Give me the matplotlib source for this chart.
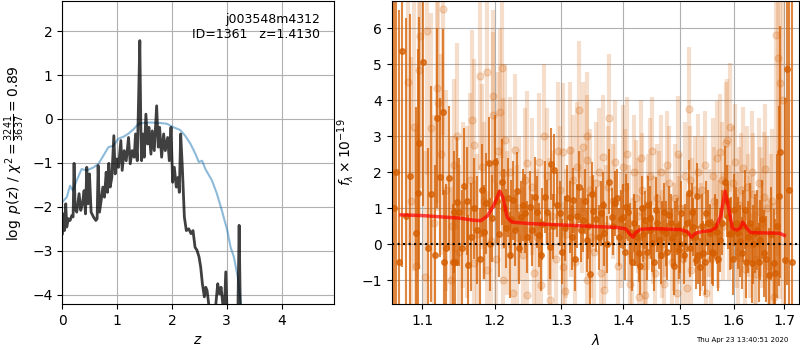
import numpy as np
import matplotlib
matplotlib.use("Agg")
import matplotlib.pyplot as plt
from matplotlib.ticker import FixedLocator, ScalarFormatter, NullLocator

# --- p(z) panel -------------------------------------------------------------
z_pz = [0.000, 0.018, 0.037, 0.061, 0.079, 0.110, 0.140, 0.171, 0.195, 0.213,
        0.232, 0.262, 0.305, 0.335, 0.366, 0.396, 0.421, 0.445, 0.470, 0.494,
        0.524, 0.567, 0.610, 0.634, 0.652, 0.677, 0.707, 0.738, 0.768, 0.799,
        0.823, 0.848, 0.872, 0.902, 0.939, 0.963, 0.994, 1.024, 1.067, 1.091,
        1.128, 1.165, 1.207, 1.238, 1.274, 1.311, 1.335, 1.366, 1.390, 1.413,
        1.433, 1.445, 1.470, 1.494, 1.524, 1.555, 1.579, 1.616, 1.640, 1.677,
        1.720, 1.750, 1.774, 1.811, 1.848, 1.878, 1.921, 1.951, 1.982, 2.012,
        2.043, 2.079, 2.110, 2.134, 2.159, 2.189, 2.226, 2.262, 2.305, 2.348,
        2.384, 2.421, 2.457, 2.494, 2.524, 2.555, 2.591, 2.616, 2.640, 2.677,
        2.713, 2.774, 2.835, 2.866, 2.896, 2.921, 2.951, 2.982, 3.006, 3.067,
        3.128, 3.201, 3.226, 3.250, 3.311, 3.400]
logpz = [-2.61, -2.16, -2.54, -1.93, -2.46, -2.27, -2.31, -2.20, -2.23, -1.01,
         -2.05, -2.12, -1.70, -2.08, -1.93, -1.63, -2.16, -1.10, -1.93, -1.25,
         -2.12, -2.23, -2.31, -2.27, -1.06, -2.12, -1.86, -1.55, -1.78, -1.21,
         -1.67, -1.01, -1.55, -1.33, -0.38, -1.25, -0.91, -1.10, -0.49, -1.17,
         -0.72, -0.95, -0.42, -1.02, -0.72, -0.87, -0.34, -0.95, 0.42, 1.785,
         -0.34, -0.95, -0.34, -0.87, 0.11, -0.57, -0.19, -0.80, -0.27, -0.72,
         0.30, -0.64, -0.19, -0.87, -0.34, -0.72, -0.42, -0.95, -0.19, -1.44,
         -1.10, -1.55, -1.33, -1.67, -0.34, -1.10, -2.23, -2.54, -2.50, -2.61,
         -2.54, -2.92, -2.99, -3.14, -3.37, -3.75, -4.05, -3.83, -3.90, -4.28,
         -4.51, -4.58, -3.75, -3.98, -3.83, -4.13, -4.51, -3.48, -4.43, -4.81,
         -4.89, -4.58, -2.42, -4.58, -5.27, -6.00]

z_prior = [0.00, 0.08, 0.14, 0.19, 0.26, 0.35, 0.45, 0.57, 0.66, 0.75, 0.84,
           0.93, 1.02, 1.12, 1.21, 1.30, 1.39, 1.48, 1.60, 1.79, 1.91, 2.03,
           2.15, 2.24, 2.34, 2.43, 2.49, 2.55, 2.61, 2.73, 2.82, 2.91, 3.01,
           3.07, 3.13, 3.20, 3.26, 3.35]
logp_prior = [-1.89, -1.78, -1.52, -1.63, -1.40, -1.14, -1.17, -1.10, -1.02,
              -0.83, -0.64, -0.61, -0.45, -0.40, -0.33, -0.23, -0.11, -0.09,
              -0.08, -0.09, -0.11, -0.19, -0.25, -0.38, -0.57, -0.80, -0.98,
              -0.95, -1.14, -1.40, -1.70, -2.08, -2.54, -2.92, -3.14, -3.60,
              -4.22, -5.00]

# --- spectrum panel: strong (dark) points -----------------------------------
wave_a = [1.063, 1.066, 1.069, 1.073, 1.078, 1.084, 1.091, 1.094, 1.096, 1.101,
          1.107, 1.112, 1.117, 1.120, 1.124, 1.127, 1.129, 1.131, 1.135, 1.141,
          1.144, 1.147, 1.150, 1.157, 1.162, 1.175, 1.184, 1.187, 1.191, 1.196,
          1.200, 1.211, 1.216, 1.222, 1.227, 1.229, 1.233, 1.238, 1.245, 1.252,
          1.255, 1.259, 1.265, 1.270, 1.275, 1.282, 1.284, 1.289, 1.298, 1.305,
          1.313, 1.319, 1.324, 1.328, 1.335, 1.340, 1.346, 1.351, 1.356, 1.364,
          1.369, 1.377, 1.381, 1.386, 1.393, 1.400, 1.406, 1.412, 1.421, 1.427,
          1.432, 1.438, 1.446, 1.450, 1.456, 1.462, 1.468, 1.474, 1.480, 1.485,
          1.491, 1.497, 1.502, 1.509, 1.515, 1.523, 1.528, 1.531, 1.536, 1.542,
          1.548, 1.555, 1.561, 1.567, 1.574, 1.583, 1.589, 1.595, 1.601, 1.608,
          1.615, 1.621, 1.628, 1.635, 1.641, 1.651, 1.658, 1.668, 1.678, 1.690,
          1.692, 1.701, 1.706, 1.710, 1.715]
flux_a = [1.0, 2.0, -0.5, 5.38, 0.8, 1.9, 0.33, 1.42, 2.81, 5.08,
          -0.11, 1.40, -0.30, 3.50, 1.86, 3.67, -0.48, -0.11, 1.84, -0.48,
          -0.48, 1.19, 0.91, 1.62, -0.58, 0.40, 0.34, 1.14, 2.25, 0.72,
          2.30, 1.74, 0.45, -0.30, 1.23, 0.40, 1.47, 0.77, 0.86, 1.05,
          0.40, 1.33, 0.26, 0.58, 1.33, -0.06, 2.24, 2.07, 0.86, 0.45,
          0.77, 1.23, 0.79, 1.60, 0.68, 0.12, -0.83, 0.94, 0.70, 0.86,
          0.31, 1.74, 0.77, 1.14, 0.21, 0.77, 1.05, 0.35, 0.31, -0.25,
          1.00, 0.68, 0.72, 0.03, 0.96, 0.12, 0.40, 0.31, 0.82, 0.17,
          0.31, -0.16, 0.86, 0.31, 1.44, 0.49, -0.44, 1.35, -0.62, -0.25,
          0.86, 0.31, -0.25, 0.35, 0.12, 1.74, 0.77, 0.31, 0.96, 0.31,
          -0.25, 0.96, 0.21, -0.53, 0.31, 0.12, -0.25, -0.85, -0.53, 1.35,
          2.58, -0.44, 4.88, 1.5, -0.5]
err_a = [8.0, 7.5, 7.0, 6.0, 5.5, 4.5, 3.5, 4.0, 3.5, 4.0,
         2.8, 3.0, 2.5, 2.5, 2.2, 2.3, 2.0, 1.8, 2.0, 1.6,
         1.5, 1.8, 1.5, 1.6, 1.4, 1.5, 1.3, 1.4, 1.3, 1.2,
         1.3, 1.2, 1.1, 1.2, 1.1, 1.0, 1.1, 1.0, 1.1, 1.0,
         1.0, 1.1, 0.9, 1.0, 1.0, 0.9, 1.0, 1.0, 0.9, 0.9,
         1.0, 0.9, 0.9, 1.0, 0.9, 0.9, 0.9, 1.0, 0.9, 0.9,
         0.9, 0.9, 0.8, 0.9, 0.8, 0.9, 0.9, 0.8, 0.9, 0.8,
         0.9, 0.8, 0.9, 0.8, 0.9, 0.8, 0.8, 0.9, 0.8, 0.8,
         0.9, 0.8, 0.9, 0.8, 0.9, 0.8, 0.8, 0.9, 0.8, 0.9,
         0.9, 0.8, 0.9, 0.9, 0.9, 1.0, 0.9, 1.0, 1.0, 1.0,
         1.0, 1.1, 1.0, 1.1, 1.1, 1.1, 1.2, 1.3, 1.5, 2.5,
         3.5, 4.5, 6.0, 8.0, 8.0]

# second batch of strong points, in between the first
wave_a2 = [1.143, 1.153, 1.160, 1.166, 1.170, 1.179, 1.181, 1.193, 1.203, 1.206,
           1.214, 1.219, 1.224, 1.236, 1.241, 1.248, 1.262, 1.268, 1.278, 1.287,
           1.293, 1.301, 1.309, 1.316, 1.322, 1.331, 1.338, 1.343, 1.349, 1.360,
           1.366, 1.373, 1.384, 1.390, 1.396, 1.403, 1.409, 1.415, 1.418, 1.424,
           1.429, 1.435, 1.441, 1.443, 1.448, 1.453, 1.459, 1.465, 1.471, 1.477,
           1.483, 1.488, 1.494, 1.500, 1.506, 1.512, 1.518, 1.521, 1.526, 1.533,
           1.539, 1.545, 1.551, 1.558, 1.564, 1.570, 1.578, 1.586, 1.592, 1.598,
           1.604, 1.611, 1.618, 1.624, 1.631, 1.638, 1.645, 1.648, 1.654, 1.662,
           1.672, 1.682, 1.686]
flux_a2 = [0.9, -0.1, 1.2, 0.2, 1.0, -0.4, 1.5, 0.0, 1.2, 0.3,
           1.0, 1.3, 0.7, -0.1, 1.1, 0.2, 0.9, -0.3, 0.9, 0.5,
           1.1, -0.2, 1.3, 0.2, -0.4, 0.4, 1.2, 0.5, 1.4, 0.2,
           1.1, 0.0, 0.5, 1.3, 0.7, -0.2, 0.9, -0.5, 0.6, 0.2,
           -0.6, 0.3, -0.2, 1.1, 0.4, -0.5, 0.6, -0.3, 0.9, -0.2,
           0.6, -0.6, 0.5, 0.0, -0.3, 0.6, -0.1, 0.9, 0.2, -0.3,
           0.5, -0.5, 0.6, -0.2, 0.5, -0.4, 0.6, 1.2, 0.3, -0.4,
           0.6, 0.1, 0.5, -0.5, 0.6, 0.0, 0.4, -0.5, 0.7, -0.4,
           0.3, -0.8, 0.5]
err_a2 = [1.7, 1.6, 1.5, 1.5, 1.4, 1.4, 1.3, 1.3, 1.2, 1.2,
          1.1, 1.1, 1.1, 1.0, 1.0, 1.0, 1.0, 1.0, 0.9, 0.9,
          0.9, 0.9, 0.9, 0.9, 0.9, 0.9, 0.9, 0.9, 0.9, 0.9,
          0.9, 0.8, 0.8, 0.8, 0.8, 0.8, 0.8, 0.8, 0.8, 0.8,
          0.8, 0.8, 0.8, 0.8, 0.8, 0.8, 0.8, 0.8, 0.8, 0.8,
          0.8, 0.8, 0.8, 0.8, 0.8, 0.8, 0.8, 0.8, 0.8, 0.8,
          0.9, 0.9, 0.9, 0.9, 0.9, 0.9, 0.9, 1.0, 1.0, 1.0,
          1.0, 1.0, 1.0, 1.0, 1.1, 1.1, 1.1, 1.1, 1.1, 1.2,
          1.3, 1.5, 2.0]

# --- spectrum panel: weak (light) points ------------------------------------
wave_b = [1.081, 1.085, 1.089, 1.092, 1.096, 1.097, 1.103, 1.106, 1.111, 1.115,
          1.120, 1.121, 1.125, 1.128, 1.132, 1.138, 1.140, 1.147, 1.150, 1.160,
          1.165, 1.168, 1.171, 1.171, 1.179, 1.182, 1.185, 1.189, 1.189, 1.195,
          1.197, 1.198, 1.205, 1.207, 1.211, 1.212, 1.212, 1.218, 1.222, 1.227,
          1.230, 1.236, 1.242, 1.248, 1.248, 1.255, 1.262, 1.268, 1.273, 1.278,
          1.283, 1.286, 1.292, 1.298, 1.303, 1.303, 1.308, 1.313, 1.318, 1.324,
          1.328, 1.332, 1.340, 1.340, 1.341, 1.345, 1.352, 1.360, 1.367, 1.369,
          1.372, 1.377, 1.383, 1.392, 1.400, 1.404, 1.410, 1.412, 1.418, 1.425,
          1.427, 1.432, 1.438, 1.440, 1.446, 1.452, 1.458, 1.465, 1.470, 1.472,
          1.480, 1.488, 1.494, 1.495, 1.500, 1.505, 1.512, 1.515, 1.517, 1.522,
          1.533, 1.540, 1.548, 1.552, 1.560, 1.567, 1.574, 1.580, 1.584, 1.586,
          1.592, 1.598, 1.605, 1.610, 1.617, 1.621, 1.625, 1.632, 1.638, 1.644,
          1.648, 1.655, 1.658, 1.665, 1.672, 1.678, 1.683, 1.688, 1.692, 1.698]
flux_b = [4.52, 1.2, 3.27, -0.6, 4.85, 5.78, -0.9, 5.92, 3.23, 0.6,
          4.34, 3.92, 2.5, 6.54, 1.5, -1.0, 0.5, 3.00, -0.2, 0.9,
          1.8, 3.46, 2.76, -0.53, 4.68, 2.16, 1.2, 4.80, -0.71, 0.1,
          4.11, 3.60, 2.6, 3.69, 4.90, 1.98, -0.99, 0.6, 2.0, -1.35,
          2.62, 1.0, -0.3, 2.25, -1.41, 1.6, 0.2, -1.13, 3.00, 1.9,
          -1.55, 0.8, -0.4, 1.5, 2.58, -0.62, 0.3, 2.62, 1.8, 2.16,
          3.74, 0.9, 2.35, -0.99, 3.00, 1.5, -0.2, 2.0, 2.44, -1.27,
          0.5, 3.50, 1.2, -0.6, 2.16, 1.6, 0.6, -1.09, 2.0, 0.8,
          -1.46, 1.5, -1.41, -0.3, 1.9, 0.4, 1.3, 2.0, -1.09, 0.6,
          1.7, 0.2, -1.36, 2.51, 1.0, -0.4, -1.22, 3.77, 1.79, 0.9,
          2.02, 1.5, -1.36, 0.6, 1.9, 2.39, 2.58, 0.5, 2.81, 2.90,
          3.25, 1.7, 0.4, 1.1, 2.11, -0.67, 1.6, 0.2, 1.4, -0.81,
          1.7, 0.6, 1.33, 1.0, 0.3, -1.46, 5.83, 5.18, 4.48, 4.02]
err_b = [4.5, 4.0, 4.0, 3.8, 4.0, 4.2, 3.5, 4.0, 3.2, 3.0,
         3.2, 3.0, 2.8, 3.5, 2.8, 2.6, 2.5, 2.6, 2.4, 2.4,
         2.4, 2.5, 2.4, 2.3, 2.6, 2.3, 2.2, 2.6, 2.2, 2.2,
         2.4, 2.3, 2.2, 2.3, 2.5, 2.1, 2.1, 2.0, 2.1, 2.0,
         2.1, 2.0, 1.9, 2.0, 1.9, 1.9, 1.9, 1.9, 2.0, 1.9,
         1.9, 1.8, 1.8, 1.8, 1.9, 1.8, 1.8, 1.9, 1.8, 1.8,
         1.9, 1.7, 1.8, 1.7, 1.8, 1.7, 1.7, 1.8, 1.7, 1.7,
         1.7, 1.8, 1.6, 1.6, 1.7, 1.6, 1.6, 1.6, 1.6, 1.6,
         1.6, 1.6, 1.6, 1.5, 1.6, 1.5, 1.5, 1.6, 1.5, 1.5,
         1.6, 1.5, 1.5, 1.6, 1.5, 1.5, 1.5, 1.7, 1.5, 1.5,
         1.6, 1.5, 1.5, 1.5, 1.6, 1.6, 1.6, 1.5, 1.7, 1.7,
         1.8, 1.6, 1.6, 1.6, 1.7, 1.6, 1.7, 1.7, 1.7, 1.7,
         1.8, 1.8, 1.8, 2.0, 2.2, 2.6, 5.0, 5.5, 6.0, 6.5]

wave_b2 = [1.143, 1.155, 1.175, 1.202, 1.215, 1.232, 1.245, 1.258, 1.265, 1.281,
           1.295, 1.306, 1.315, 1.321, 1.335, 1.348, 1.356, 1.363, 1.375, 1.387,
           1.396, 1.407, 1.415, 1.422, 1.430, 1.435, 1.443, 1.449, 1.455, 1.462,
           1.468, 1.477, 1.485, 1.491, 1.498, 1.508, 1.520, 1.527, 1.537, 1.545,
           1.556, 1.563, 1.570, 1.577, 1.590, 1.602, 1.608, 1.614, 1.628, 1.635,
           1.641, 1.651, 1.661, 1.668, 1.675]
flux_b2 = [2.2, 1.1, 0.3, -0.4, 2.9, 0.2, 1.8, -0.8, 2.3, 0.5,
           2.6, -1.3, 0.9, -0.5, 2.7, 0.2, 1.7, -0.8, 1.6, 2.3,
           0.4, 2.5, -0.3, 1.3, 2.4, -0.6, 0.9, 2.6, -0.8, 1.1,
           0.0, 2.2, -0.5, 1.3, 0.4, 1.9, -0.7, 1.5, 0.2, 2.2,
           -0.4, 1.2, 0.3, 1.8, 0.6, 2.3, -0.2, 1.5, 0.8, 2.0,
           -0.4, 0.9, 2.1, -0.6, 1.2]
err_b2 = [2.4, 2.3, 2.2, 2.1, 2.1, 2.0, 2.0, 1.9, 1.9, 1.9,
          1.9, 1.8, 1.8, 1.8, 1.8, 1.7, 1.7, 1.7, 1.7, 1.7,
          1.6, 1.6, 1.6, 1.6, 1.6, 1.6, 1.6, 1.5, 1.5, 1.5,
          1.5, 1.5, 1.5, 1.5, 1.5, 1.5, 1.5, 1.5, 1.5, 1.5,
          1.5, 1.5, 1.5, 1.6, 1.6, 1.6, 1.6, 1.6, 1.7, 1.7,
          1.7, 1.8, 1.8, 1.9, 2.0]

wave_model = [1.072, 1.100, 1.150, 1.170, 1.180, 1.190, 1.200, 1.207, 1.212,
              1.218, 1.225, 1.250, 1.300, 1.350, 1.390, 1.405, 1.412, 1.417,
              1.422, 1.430, 1.450, 1.500, 1.513, 1.520, 1.527, 1.540, 1.555,
              1.565, 1.575, 1.583, 1.590, 1.597, 1.605, 1.612, 1.617, 1.625,
              1.632, 1.650, 1.690, 1.700]
flux_model = [0.82, 0.80, 0.73, 0.67, 0.66, 0.80, 1.15, 1.48, 1.30,
              0.75, 0.62, 0.58, 0.54, 0.50, 0.47, 0.43, 0.28, 0.20,
              0.33, 0.42, 0.44, 0.41, 0.35, 0.20, 0.30, 0.36, 0.38,
              0.45, 0.80, 1.48, 1.00, 0.45, 0.40, 0.45, 0.62, 0.45,
              0.33, 0.32, 0.31, 0.25]

lam_ticks = [1.1, 1.2, 1.3, 1.4, 1.5, 1.6, 1.7]
title_lines = "j003548m4312\nID=1361   z=1.4130"
timestamp = "Thu Apr 23 13:40:51 2020"

grism_color = (0.8352941176470589, 0.3686274509803922, 0.0)

fig = plt.figure(figsize=(8, 3.5), dpi=100)
ax1 = fig.add_axes([0.078, 0.131, 0.339, 0.866])
ax2 = fig.add_axes([0.4896, 0.131, 0.509, 0.866])

ax1.plot(z_prior, logp_prior, color='#1f77b4', alpha=0.5, lw=1.5)
ax1.plot(z_pz, logpz, color='k', alpha=0.75, lw=2)
pmax = max(logpz)
ax1.set_ylim(pmax - 6, pmax + 0.9)
ax1.set_xlim(0, 4.95)
ax1.set_xticks([0, 1, 2, 3, 4])
ax1.grid()
ax1.set_xlabel(r'$z$')
ax1.set_ylabel(r'$\log\ p(z)$' + ' / ' + r'$\chi^2=\frac{3241}{3637}=0.89$')
ax1.text(0.95, 0.96, title_lines, ha='right', va='top',
         transform=ax1.transAxes, fontsize=9)

ax2.errorbar(wave_b + wave_b2, flux_b + flux_b2, yerr=err_b + err_b2,
             color=grism_color, alpha=0.2, marker='o', ms=5,
             linestyle='None', elinewidth=3)
ax2.errorbar(wave_a + wave_a2, flux_a + flux_a2, yerr=err_a + err_a2,
             color=grism_color, alpha=0.75, marker='o', ms=4,
             linestyle='None', elinewidth=1.5)
ax2.plot(wave_model, flux_model, color='r', alpha=0.7, lw=2.5, zorder=10)
ax2.axhline(0, color='k', linestyle=':', lw=1.5, zorder=11)

ax2.set_xscale('log')
ax2.set_xlim(1.06, 1.73)
ax2.xaxis.set_major_locator(FixedLocator(lam_ticks))
ax2.xaxis.set_major_formatter(ScalarFormatter())
ax2.xaxis.set_minor_locator(NullLocator())
ax2.set_ylim(-1.66, 6.76)
ax2.grid()
ax2.set_xlabel(r'$\lambda$')
ax2.set_ylabel(r'$f_\lambda\times10^{-19}$')

fig.text(0.985, 0.02, timestamp, ha='right', va='bottom', fontsize=5)

fig.savefig('out.png', dpi=100)
